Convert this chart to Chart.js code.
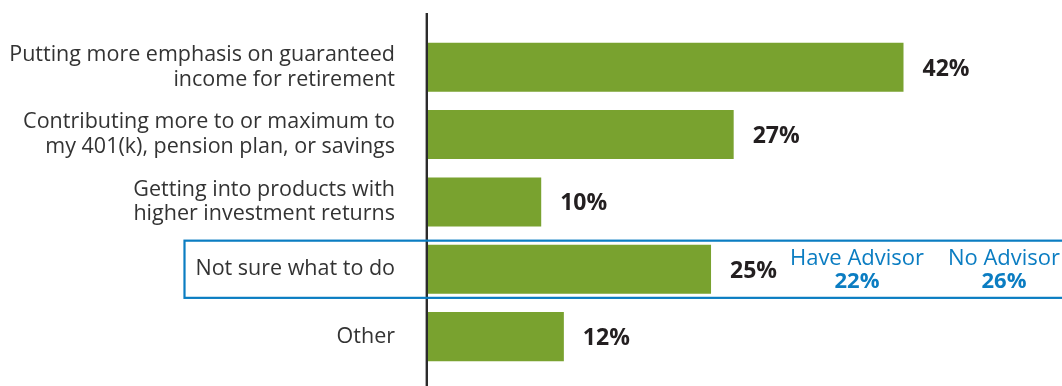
<!DOCTYPE html>
<html>
<head>
<meta charset="utf-8">
<script src="https://cdn.jsdelivr.net/npm/chart.js@4.4.1/dist/chart.umd.min.js"></script>
<style>
  html, body { margin: 0; padding: 0; background: #fff; }
  #wrap { width: 1062px; height: 386px; position: relative; }
</style>
</head>
<body>
<div id="wrap"><canvas id="chart"></canvas></div>
<script>
const categories = [
  ['Putting more emphasis on guaranteed', 'income for retirement'],
  ['Contributing more to or maximum to', 'my 401(k), pension plan, or savings'],
  ['Getting into products with', 'higher investment returns'],
  'Not sure what to do',
  'Other'
];
const shares = [42, 27, 10, 25, 12];
const highlightIndex = 3;
const advisorGroups = ['Have Advisor', 'No Advisor'];
const advisorShares = [22, 26];

const GREEN = '#79a22f';
const BLUE = '#0b7dc2';
const INK = '#231f20';
const FONT = '"Open Sans", "Noto Sans", sans-serif';

// axis rule, % labels, highlight box and the advisor split
const overlay = {
  id: 'overlay',
  afterDatasetsDraw(chart) {
    const { ctx } = chart;
    const yScale = chart.scales.y;
    const meta = chart.getDatasetMeta(0);
    ctx.save();

    // vertical axis rule, longer than the plot area
    ctx.fillStyle = '#2b2b2b';
    ctx.fillRect(chart.chartArea.left - 2.4, 13, 2.4, chart.height - 13);

    // highlight box around one category
    const yc = yScale.getPixelForValue(highlightIndex);
    ctx.strokeStyle = BLUE;
    ctx.lineWidth = 2.2;
    ctx.strokeRect(184.5, yc - 28.6, chart.width, 57.2);

    // value labels at the end of each bar
    ctx.fillStyle = INK;
    ctx.font = 'bold 23px ' + FONT;
    ctx.textAlign = 'left';
    ctx.textBaseline = 'alphabetic';
    meta.data.forEach((bar, i) => {
      ctx.fillText(shares[i] + '%', bar.x + 19, bar.y + 8.5);
    });

    // advisor breakdown inside the box
    const centers = [857, 1004];
    ctx.fillStyle = BLUE;
    ctx.textAlign = 'center';
    advisorGroups.forEach((name, i) => {
      ctx.font = '22px ' + FONT;
      ctx.fillText(name, centers[i], yc - 4.5);
      ctx.font = 'bold 22px ' + FONT;
      ctx.fillText(advisorShares[i] + '%', centers[i], yc + 19);
    });
    ctx.restore();
  }
};

new Chart(document.getElementById('chart'), {
  type: 'bar',
  data: {
    labels: categories,
    datasets: [{
      data: shares,
      backgroundColor: GREEN,
      borderWidth: 0,
      barPercentage: 0.728,
      categoryPercentage: 1
    }]
  },
  options: {
    indexAxis: 'y',
    responsive: true,
    maintainAspectRatio: false,
    animation: false,
    layout: { padding: { top: 33.5, bottom: 15.7, left: 0, right: 0 } },
    plugins: { legend: { display: false }, tooltip: { enabled: false } },
    scales: {
      x: { display: false, min: 0, max: 56 },
      y: {
        grid: { display: false },
        border: { display: false },
        ticks: {
          padding: 25,
          color: '#333',
          font: { family: FONT, size: 21.5, lineHeight: 1.16 }
        },
        afterFit(scale) {
          scale.width = 428;
          scale.paddingTop = 0;
          scale.paddingBottom = 0;
        }
      }
    }
  },
  plugins: [overlay]
});
</script>
</body>
</html>
